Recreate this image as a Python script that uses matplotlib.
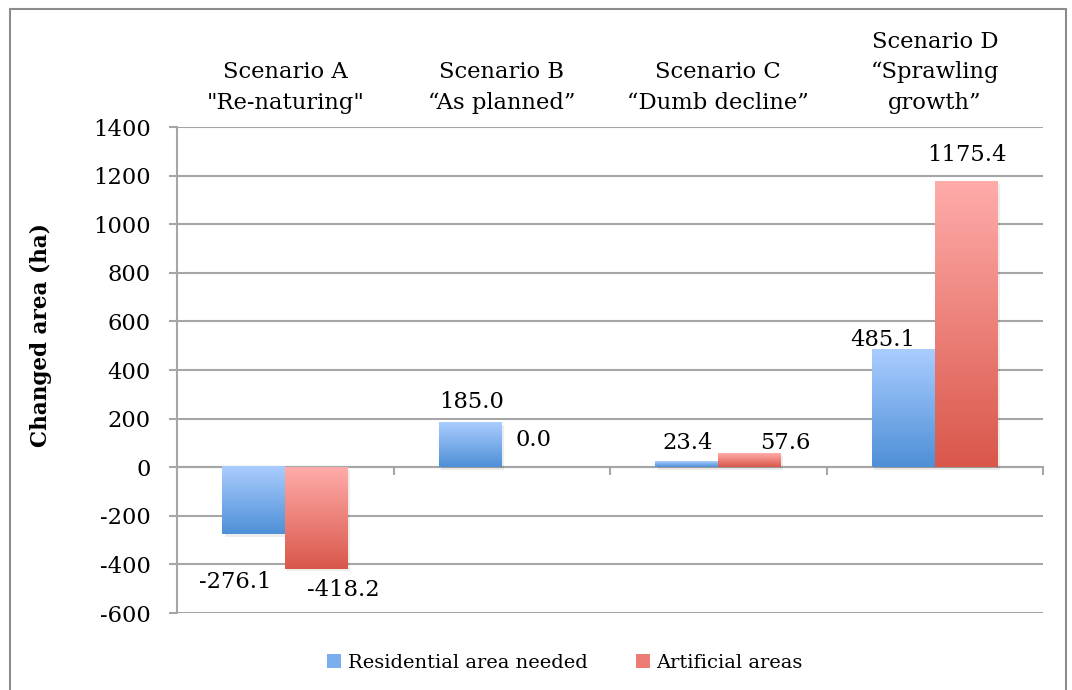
import matplotlib
matplotlib.use("Agg")
import matplotlib.pyplot as plt
import numpy as np
from matplotlib.colors import LinearSegmentedColormap
from matplotlib.patches import Patch, Rectangle

# data
scenarios = ['Scenario A\n"Re-naturing"', "Scenario B\n\u201cAs planned\u201d",
             "Scenario C\n\u201cDumb decline\u201d", "Scenario D\n\u201cSprawling\ngrowth\u201d"]
series_names = ["Residential area needed", "Artificial areas"]
residential = [-276.1, 185.0, 23.4, 485.1]
artificial = [-418.2, 0.0, 57.6, 1175.4]

# hand-placed data labels (x offset in category units, y in data units)
res_label_pos = [(-0.23, -473), (-0.14, 268), (-0.14, 99), (-0.24, 523)]
art_label_pos = [(0.27, -506), (0.145, 111), (0.31, 99), (0.15, 1284)]

plt.rcParams["font.family"] = ["DejaVu Serif"]
plt.rcParams["axes.unicode_minus"] = False
FS = 16.3
GRID = "#a6a6a6"

blue_cmap = LinearSegmentedColormap.from_list("blue", ["#aacdff", "#4e8fd7"])
red_cmap = LinearSegmentedColormap.from_list("red", ["#ffacaa", "#d9574a"])


def gradient_bars(ax, x, values, width, cmap):
    grad = np.linspace(0, 1, 256).reshape(-1, 1)
    for xi, v in zip(x, values):
        if v == 0:
            continue
        top, bottom = max(v, 0), min(v, 0)
        # soft shadow under the bar
        ax.add_patch(Rectangle((xi - width / 2 + 0.01, bottom - 10), width, top - bottom,
                               facecolor="#000000", alpha=0.07, edgecolor="none", zorder=2))
        ax.imshow(grad, cmap=cmap, aspect="auto", origin="upper",
                  extent=[xi - width / 2, xi + width / 2, bottom, top], zorder=3)


fig = plt.figure(figsize=(10.72, 6.9), dpi=100)
ax = fig.add_axes([177 / 1072, 1 - 613 / 690, (1043 - 177) / 1072, (613 - 127) / 690])

x = np.arange(len(scenarios))
w = 0.29
gradient_bars(ax, x - w / 2, residential, w, blue_cmap)
gradient_bars(ax, x + w / 2, artificial, w, red_cmap)

ax.set_xlim(-0.5, len(scenarios) - 0.5)
ax.set_ylim(-600, 1400)
ax.set_yticks(np.arange(-600, 1401, 200))
ax.yaxis.grid(True, color=GRID, linewidth=1.5, zorder=1)
ax.set_axisbelow(True)

for side in ["top", "right"]:
    ax.spines[side].set_visible(False)
ax.spines["left"].set_color(GRID)
ax.spines["left"].set_linewidth(1.5)
ax.spines["bottom"].set_position(("data", 0))
ax.spines["bottom"].set_color(GRID)
ax.spines["bottom"].set_linewidth(1.5)
ax.spines["bottom"].set_zorder(1)
ax.set_xticks(np.arange(-0.5, len(scenarios), 1.0))
ax.set_xticklabels([])
ax.tick_params(axis="x", direction="out", length=6, width=1.5, color=GRID)
ax.tick_params(axis="y", direction="out", length=6, width=1.5, color=GRID,
               labelsize=FS, pad=13)

ax.set_ylabel("Changed area (ha)", fontsize=15.5, fontweight="bold")
ax.yaxis.set_label_coords(-0.144, 0.572)

# category labels above the plot
for xi, name in zip(x, scenarios):
    ax.text(xi, 1455, name, ha="center", va="bottom", fontsize=FS,
            linespacing=1.5, clip_on=False)

# data labels
for xi, v, (dx, y) in zip(x, residential, res_label_pos):
    ax.text(xi + dx, y, f"{v:.1f}", ha="center", va="center", fontsize=FS, zorder=5)
for xi, v, (dx, y) in zip(x, artificial, art_label_pos):
    ax.text(xi + dx, y, f"{v:.1f}", ha="center", va="center", fontsize=FS, zorder=5)

handles = [Patch(facecolor="#7aaeee", edgecolor="none"),
           Patch(facecolor="#ec7c74", edgecolor="none")]
fig.legend(handles, series_names, loc="center", bbox_to_anchor=(0.527, 1 - 663 / 690),
           ncol=2, frameon=False, fontsize=14, handlelength=0.7, handleheight=0.7,
           handletextpad=0.35, columnspacing=2.5)

# outer chart border
fig.patches.append(Rectangle((10 / 1072, -0.05), (1066 - 10) / 1072, 1.05 - 9 / 690,
                             transform=fig.transFigure, fill=False,
                             edgecolor="#8c8c8c", linewidth=1.5))

fig.savefig("out.png", dpi=100)
